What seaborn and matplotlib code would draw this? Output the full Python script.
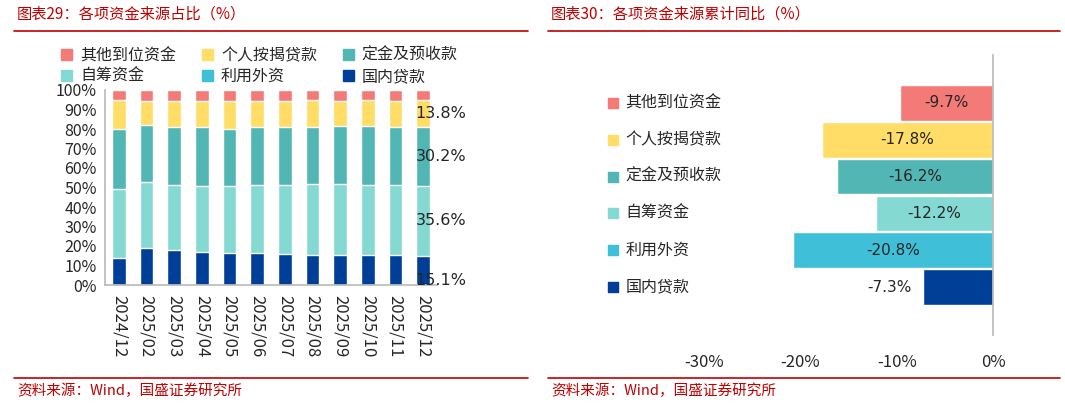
import numpy as np
import pandas as pd
import matplotlib
matplotlib.use("Agg")
import matplotlib.pyplot as plt
import seaborn as sns
from matplotlib.lines import Line2D
from matplotlib.patches import Patch

sns.set_theme(style="white")
plt.rcParams['font.family'] = ['Noto Sans CJK SC', 'DejaVu Sans']

months = ["2024/12", "2025/02", "2025/03", "2025/04", "2025/05", "2025/06",
          "2025/07", "2025/08", "2025/09", "2025/10", "2025/11", "2025/12"]
loans = [13.9, 19.0, 18.0, 17.0, 16.5, 16.5, 16.0, 15.6, 15.6, 15.6, 15.6, 15.1]
selfraised = [35.3, 33.6, 33.3, 33.8, 34.3, 34.8, 35.3, 36.2, 36.2, 35.7, 35.7, 35.6]
deposits = [30.9, 29.2, 29.5, 30.0, 29.3, 29.5, 29.5, 29.0, 29.5, 30.0, 29.5, 30.2]
mortgage = [14.8, 12.6, 13.6, 13.6, 14.3, 13.6, 13.6, 14.1, 13.1, 13.6, 13.6, 13.8]
other = [100 - a - b - c - d for a, b, c, d in zip(loans, selfraised, deposits, mortgage)]

names = ["其他到位资金", "个人按揭贷款", "定金及预收款", "自筹资金", "利用外资", "国内贷款"]
colors = ["#F47A78", "#FFDD66", "#52B6B4", "#84D9D2", "#40C0D8", "#003F98"]
growth = [-9.7, -17.8, -16.2, -12.2, -20.8, -7.3]
red = "#C00000"

fig = plt.figure(figsize=(10.65, 4.04), dpi=100)
W, H = 1065, 404
def pos(x0, y0, x1, y1):
    return [x0 / W, 1 - y1 / H, (x1 - x0) / W, (y1 - y0) / H]

# ---- left chart
ax1 = fig.add_axes(pos(105, 90, 437, 285))
cums = np.cumsum([loans, selfraised, deposits, mortgage], axis=0)
layers = [([100] * 12, colors[0]), (cums[3], colors[1]), (cums[2], colors[2]),
          (cums[1], colors[3]), (np.array(loans), colors[5])]
for vals, c in layers:
    df = pd.DataFrame({"m": months, "v": vals})
    sns.barplot(data=df, x="m", y="v", color=c, saturation=1, width=0.5, ax=ax1)
ax1.set_ylim(0, 100)
ax1.set_xlim(-0.5, 11.5)
ax1.set_yticks(range(0, 101, 10))
ax1.set_yticklabels([f"{v}%" for v in range(0, 101, 10)], fontsize=11.5)
ax1.set_xticks(range(12))
ax1.set_xticklabels(months, rotation=-90, fontsize=12)
ax1.set_xlabel(""); ax1.set_ylabel("")
for s in ["top", "right"]:
    ax1.spines[s].set_visible(False)
for s in ["left", "bottom"]:
    ax1.spines[s].set_color("#BBBBBB")
ax1.tick_params(axis="both", length=4, color="#BBBBBB", direction="out", pad=2)
ax1.tick_params(axis="x", pad=3)
vals_last = [loans[-1], selfraised[-1], deposits[-1], mortgage[-1]]
for i, v in enumerate(vals_last):
    mid = cums[i, -1] - v / 2 if i > 0 else 2.5
    ax1.text(10.72, mid, f"{v:.1f}%", fontsize=11.5, ha="left", va="center",
             family=["DejaVu Sans"])
order = [0, 3, 1, 4, 2, 5]
handles = [Patch(color=colors[i], label=names[i]) for i in order]
fig.legend(handles=handles, ncol=3, loc="upper left", bbox_to_anchor=(50 / W, 1 - 36 / H),
           frameon=False, fontsize=11.5, handlelength=0.7, handleheight=0.7,
           columnspacing=1.6, handletextpad=0.5, labelspacing=0.25, borderpad=0.2)

# ---- right chart
ax2 = fig.add_axes(pos(560, 55, 993, 335))
df2 = pd.DataFrame({"n": names, "v": growth})
sns.barplot(data=df2, y="n", x="v", hue="n", palette=colors, saturation=1,
            width=0.97, legend=False, ax=ax2, orient="h")
ax2.set_xlim(-45, 0)
ax2.set_ylim(5.5 + 0.8, -0.5 - 0.8)
ax2.set_xticks([-30, -20, -10, 0])
ax2.set_xticklabels(["-30%", "-20%", "-10%", "0%"], fontsize=12)
ax2.set_yticks([]); ax2.set_xlabel(""); ax2.set_ylabel("")
for s in ["top", "left", "bottom"]:
    ax2.spines[s].set_visible(False)
ax2.spines["right"].set_color("#BBBBBB")
ax2.tick_params(axis="x", length=0, pad=14)
for i, v in enumerate(growth):
    ax2.text(v / 2 if v < -8 else v - 3.5, i, f"{v}%", ha="center", va="center", fontsize=11,
             family=["DejaVu Sans"])
    ax2.scatter([-39.5], [i], marker="s", s=45, color=colors[i], clip_on=False)
    ax2.text(-38.2, i, names[i], ha="left", va="center", fontsize=11.5)

# ---- titles, rules, sources
for x0, x1, title in [(14, 528, "图表29：各项资金来源占比（%）"), (548, 1060, "图表30：各项资金来源累计同比（%）")]:
    fig.add_artist(Line2D([x0 / W, x1 / W], [1 - 31 / H] * 2, color=red, lw=1.2))
    fig.add_artist(Line2D([x0 / W, x1 / W], [1 - 378 / H] * 2, color=red, lw=1.2))
    fig.text(x0 / W + 0.003, 1 - 14 / H, title, color=red, fontsize=11, style="italic", va="center")
    fig.text(x0 / W + 0.003, 1 - 391 / H, "资料来源：Wind，国盛证券研究所", color=red, fontsize=10.5,
             style="italic", va="center")

fig.savefig("out.png", dpi=100, facecolor="white")
